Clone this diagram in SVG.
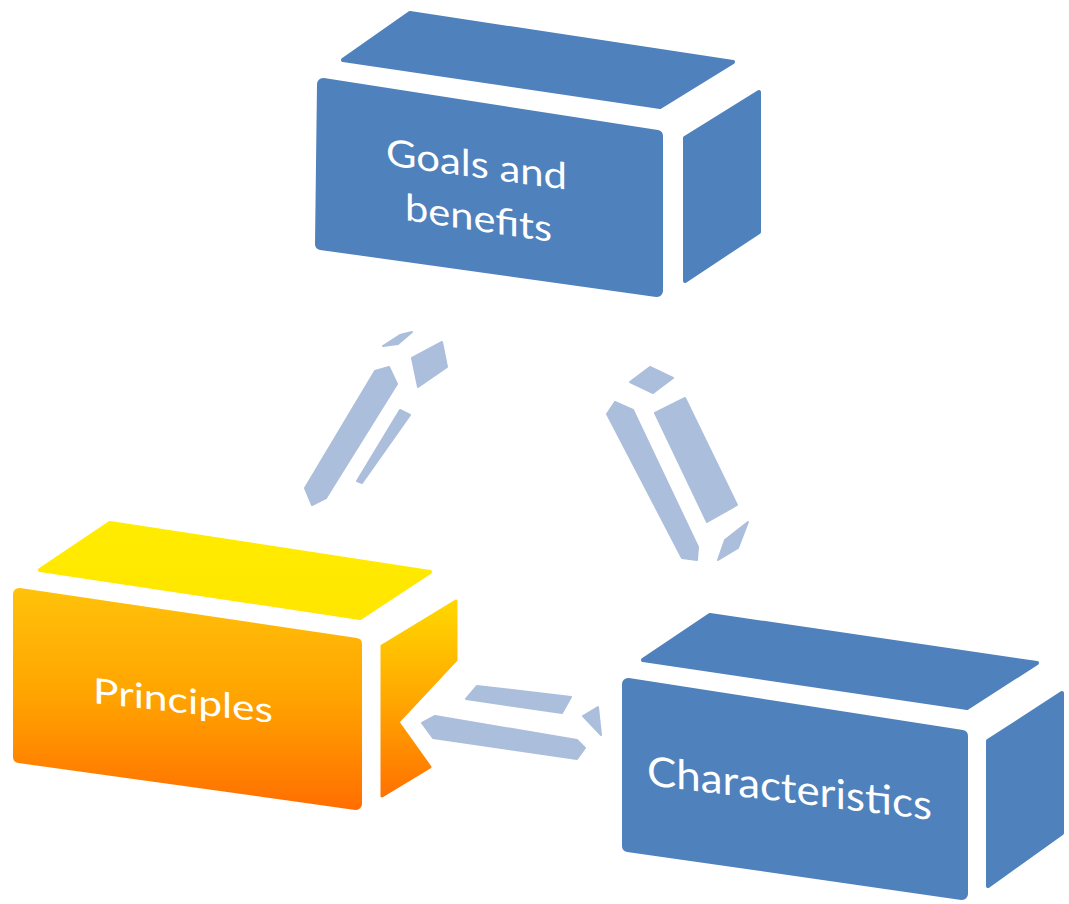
<svg xmlns="http://www.w3.org/2000/svg" width="1069" height="904" viewBox="0 0 1069 904">
<style>
.blue{fill:#4F81BD;stroke:#4F81BD;stroke-linejoin:round}
.front{stroke-width:12}
.face{stroke-width:4}
.arrow{fill:#ABBEDC;stroke:#ABBEDC;stroke-width:2;stroke-linejoin:round}
.lbl{font-family:Lato,"Open Sans","Liberation Sans",sans-serif;fill:#FFFFFF}
</style>
<defs>
<linearGradient id="gTop" gradientUnits="userSpaceOnUse" x1="0" y1="523" x2="0" y2="618">
<stop offset="0" stop-color="#FFEC00"/><stop offset="1" stop-color="#FFE600"/>
</linearGradient>
<linearGradient id="gFront" gradientUnits="userSpaceOnUse" x1="0" y1="588" x2="0" y2="810">
<stop offset="0" stop-color="#FFC20A"/><stop offset="0.5" stop-color="#FFA300"/><stop offset="1" stop-color="#FF6E00"/>
</linearGradient>
<linearGradient id="gRight" gradientUnits="userSpaceOnUse" x1="0" y1="600" x2="0" y2="797">
<stop offset="0" stop-color="#FFD800"/><stop offset="0.5" stop-color="#FFA800"/><stop offset="1" stop-color="#FF7200"/>
</linearGradient>
</defs>
<rect width="1069" height="904" fill="#FFFFFF"/>

<g id="connectors">
<g id="arrow-principles-goals">
<polygon class="arrow" points="383,346 400,335 412,332 398,344"/>
<polygon class="arrow" points="412,358 442,342 447,367 418,387"/>
<polygon class="arrow" points="375,371 389,367 397,384 326,498 312,505 305,488"/>
<polygon class="arrow" points="400,410 410,415 362,483 357,481"/>
</g>
<g id="arrow-goals-characteristics">
<polygon class="arrow" points="630,382 650,367 673,378 653,393"/>
<polygon class="arrow" points="607,414 615,402 633,410 698,547 697,560 682,558"/>
<polygon class="arrow" points="655,413 685,398 737,505 707,522"/>
<polygon class="arrow" points="718,560 725,540 748,522 738,548"/>
</g>
<g id="arrow-characteristics-principles">
<polygon class="arrow" points="466,699 477,686 571,697 562,713"/>
<polygon class="arrow" points="422,723 435,716 577,740 585,748 577,759 433,738"/>
<polygon class="arrow" points="583,716 598,707 601,735"/>
</g>
</g>

<g id="node-goals">
<polygon class="blue face" points="343,60 410,13 733,62 660,107"/>
<polygon class="blue front" points="323,84 657,136 657,291 321,244"/>
<polygon class="blue face" points="685,138 759,92 759,232 685,281"/>
<text class="lbl" font-size="37" transform="translate(386,165) skewY(7.8)" textLength="181" lengthAdjust="spacingAndGlyphs">Goals and</text>
<text class="lbl" font-size="37" transform="translate(405,220) skewY(8.5)" textLength="147" lengthAdjust="spacingAndGlyphs">benefits</text>
</g>

<g id="node-principles">
<polygon fill="url(#gTop)" stroke="url(#gTop)" stroke-width="4" stroke-linejoin="round" points="40,570 110,523 430,572 360,618"/>
<polygon fill="url(#gFront)" stroke="url(#gFront)" stroke-width="12" stroke-linejoin="round" points="19,594 356,644 356,804 19,757"/>
<polygon fill="url(#gRight)" stroke="url(#gRight)" stroke-width="3" stroke-linejoin="round" points="382,646 456,601 456,660 398,722 430,767 382,796"/>
<text class="lbl" font-size="35" transform="translate(93,703) skewY(6.3)" textLength="180" lengthAdjust="spacingAndGlyphs">Principles</text>
</g>

<g id="node-characteristics">
<polygon class="blue face" points="643,660 710,615 1037,663 967,708"/>
<polygon class="blue front" points="628,684 962,736 962,894 628,846"/>
<polygon class="blue face" points="988,741 1062,693 1062,833 988,886"/>
<text class="lbl" font-size="41" transform="translate(647,785) skewY(7)" textLength="285" lengthAdjust="spacingAndGlyphs">Characteristics</text>
</g>
</svg>
